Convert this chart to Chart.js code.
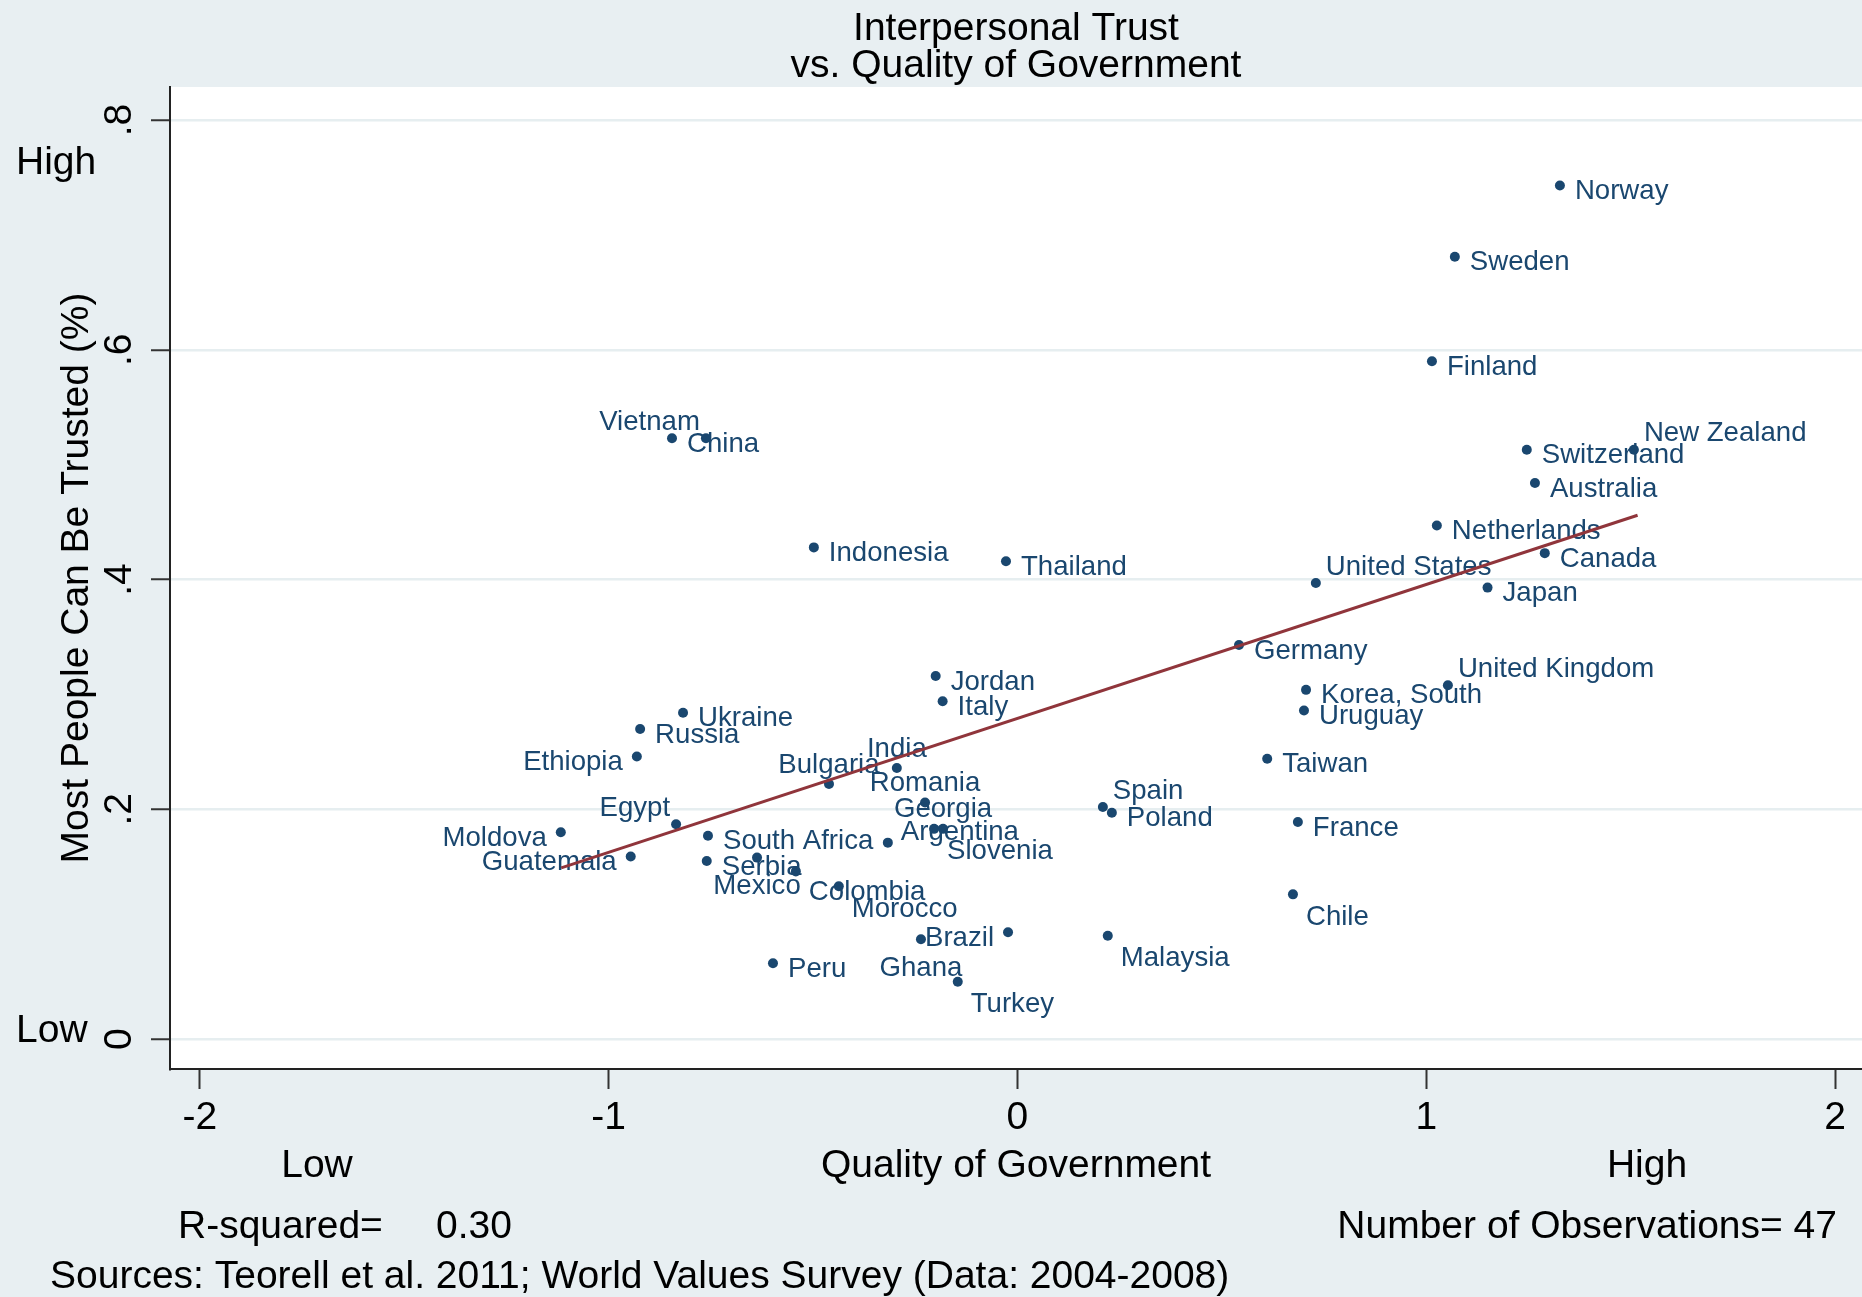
<!DOCTYPE html>
<html>
<head>
<meta charset="utf-8">
<script src="https://cdn.jsdelivr.net/npm/chart.js@4.4.1/dist/chart.umd.min.js"></script>
<style>
html,body{margin:0;padding:0;background:#e8eff2;}
canvas{display:block;}
</style>
</head>
<body>
<canvas id="c" width="1862" height="1297" style="width:1862px;height:1297px"></canvas>
<script>
// ---- Data ----
const countries = ['Norway','Sweden','Finland','New Zealand','Switzerland','Australia','Netherlands','Canada','United States','Japan',
  'Germany','United Kingdom','Korea, South','Uruguay','Taiwan','France','Chile','Spain','Poland','Malaysia',
  'Thailand','Indonesia','Vietnam','China','Jordan','Italy','Ukraine','Russia','Ethiopia','Egypt',
  'Moldova','Guatemala','South Africa','Serbia','Mexico','Colombia','Morocco','Bulgaria','India','Romania',
  'Georgia','Slovenia','Argentina','Ghana','Brazil','Turkey','Peru'];
const qog = [1.327,1.070,1.014,1.508,1.246,1.266,1.026,1.290,0.730,1.150,
  0.542,1.053,0.706,0.701,0.611,0.686,0.674,0.209,0.231,0.221,
  -0.028,-0.498,-0.762,-0.845,-0.200,-0.183,-0.818,-0.923,-0.931,-0.835,
  -1.117,-0.946,-0.757,-0.760,-0.637,-0.542,-0.437,-0.461,-0.295,-0.226,
  -0.182,-0.204,-0.317,-0.236,-0.023,-0.146,-0.598];
const trust = [0.743,0.681,0.590,0.513,0.513,0.484,0.447,0.423,0.397,0.393,
  0.343,0.308,0.304,0.286,0.244,0.189,0.126,0.202,0.197,0.090,
  0.416,0.428,0.523,0.523,0.316,0.294,0.284,0.270,0.246,0.187,
  0.180,0.159,0.177,0.155,0.158,0.146,0.133,0.222,0.236,0.206,
  0.183,0.183,0.171,0.087,0.093,0.050,0.066];
const fitX = [-1.116, 1.517];
const fitY = [0.149, 0.456];
const xTicks = [-2, -1, 0, 1, 2];
const xTickLabels = ['-2', '-1', '0', '1', '2'];
const yTicks = [0, 0.2, 0.4, 0.6, 0.8];
const yTickLabels = ['0', '.2', '.4', '.6', '.8'];
const titleLines = ['Interpersonal Trust', 'vs. Quality of Government'];
const yTitle = 'Most People Can Be Trusted (%)';
const xTitle = 'Quality of Government';
const rSquared = '0.30';
const nObs = 47;
const sourceNote = 'Sources: Teorell et al. 2011; World Values Survey (Data: 2004-2008)';

// ---- Styling ----
const FONT = '"Liberation Sans", Arial, Helvetica, sans-serif';
const NAVY = '#1a476f';
const MAROON = '#90353b';
const BG = '#e8eff2';

// marker-label clock positions (Stata style)
const labelClock = {
  'Vietnam': 11, 'New Zealand': 1, 'United States': 1, 'United Kingdom': 1, 'Spain': 1,
  'Ethiopia': 9, 'Moldova': 9, 'Guatemala': 9, 'Brazil': 9, 'Egypt': 11,
  'Bulgaria': 12, 'India': 12, 'Romania': 12, 'Georgia': 12,
  'Mexico': 6, 'Ghana': 6, 'Colombia': 4,
  'Morocco': 5, 'Slovenia': 5, 'Turkey': 5, 'Malaysia': 5, 'Chile': 5,
  'Argentina': 2
};
const clockOffsets = {
  3: [15, 6, 'left'], 9: [-14, 6, 'right'], 12: [0, -19, 'center'], 6: [0, 29, 'center'],
  1: [10, -16, 'left'], 11: [-6, -16, 'right'], 2: [13, -10, 'left'],
  4: [13, 21, 'left'], 5: [13, 23, 'left']
};

const bgPlugin = {
  id: 'bg',
  beforeDraw(chart) {
    const {ctx, chartArea: a} = chart;
    ctx.save();
    ctx.fillStyle = BG;
    ctx.fillRect(0, 0, chart.width, chart.height);
    ctx.fillStyle = '#ffffff';
    ctx.fillRect(a.left, a.top, a.right - a.left, a.bottom - a.top);
    ctx.restore();
  }
};

const labelPlugin = {
  id: 'pointLabels',
  afterDatasetDraw(chart, args) {
    if (args.index !== 0) return;
    const {ctx} = chart;
    const meta = args.meta;
    ctx.save();
    ctx.font = '27.6px ' + FONT;
    ctx.fillStyle = NAVY;
    ctx.textBaseline = 'middle';
    meta.data.forEach((el, i) => {
      const name = countries[i];
      const clock = labelClock[name] || 3;
      const [dx, dy, align] = clockOffsets[clock];
      ctx.textAlign = align;
      ctx.fillText(name, el.x + dx, el.y + dy);
    });
    ctx.restore();
  }
};

const textPlugin = {
  id: 'texts',
  afterDraw(chart) {
    const {ctx, chartArea: a} = chart;
    const ys = chart.scales.y;
    ctx.save();
    ctx.fillStyle = '#000';
    ctx.font = '39px ' + FONT;
    ctx.textBaseline = 'middle';
    // rotated y tick labels
    yTicks.forEach((v, i) => {
      const py = ys.getPixelForValue(v);
      ctx.save();
      ctx.translate(120, py);
      ctx.rotate(-Math.PI / 2);
      ctx.textAlign = 'center';
      ctx.fillText(yTickLabels[i], 0, 0);
      ctx.restore();
    });
    // y title
    ctx.save();
    ctx.translate(77, (a.top + a.bottom) / 2);
    ctx.rotate(-Math.PI / 2);
    ctx.textAlign = 'center';
    ctx.fillText(yTitle, 0, 0);
    ctx.restore();
    // y High / Low
    ctx.textAlign = 'left';
    ctx.fillText('High', 16, 163);
    ctx.fillText('Low', 16, 1031);
    // x Low / title / High
    ctx.textAlign = 'center';
    ctx.fillText('Low', 317, 1166);
    ctx.fillText(xTitle, (a.left + a.right) / 2, 1166);
    ctx.fillText('High', 1647, 1166);
    // notes
    ctx.textAlign = 'left';
    ctx.fillText('R-squared=', 178, 1227);
    ctx.fillText(rSquared, 436, 1227);
    ctx.textAlign = 'right';
    ctx.fillText('Number of Observations= ' + nObs, 1837, 1227);
    ctx.textAlign = 'left';
    ctx.fillText(sourceNote, 50, 1277);
    ctx.restore();
  }
};

new Chart(document.getElementById('c'), {
  type: 'scatter',
  data: {
    datasets: [
      {
        label: 'Countries',
        order: 1,
        data: countries.map((c, i) => ({x: qog[i], y: trust[i]})),
        pointRadius: 5,
        pointBackgroundColor: NAVY,
        pointBorderWidth: 0,
        backgroundColor: NAVY,
        borderColor: NAVY
      },
      {
        label: 'Fit',
        type: 'line',
        order: 0,
        data: fitX.map((x, i) => ({x: x, y: fitY[i]})),
        borderColor: MAROON,
        borderWidth: 3,
        pointRadius: 0,
        fill: false
      }
    ]
  },
  options: {
    responsive: false,
    animation: false,
    devicePixelRatio: 1,
    layout: {autoPadding: false, padding: {left: 170, top: 0, right: 0, bottom: 0}},
    plugins: {
      legend: {display: false},
      tooltip: {enabled: false},
      title: {
        display: true,
        text: titleLines,
        color: '#000',
        font: {family: FONT, size: 39, weight: 'normal', lineHeight: 37 / 39},
        padding: {top: 11, bottom: 2}
      }
    },
    scales: {
      x: {
        type: 'linear',
        min: -2.073,
        max: 2.066,
        afterBuildTicks: s => { s.ticks = xTicks.map(v => ({value: v})); },
        afterFit: s => { s.height = 228; s.paddingLeft = 0; s.paddingRight = 0; },
        grid: {drawOnChartArea: false, drawTicks: true, tickLength: 20, tickColor: '#333', tickWidth: 2},
        border: {display: true, color: '#222', width: 2},
        ticks: {
          color: '#000',
          font: {family: FONT, size: 39},
          padding: 6,
          maxRotation: 0,
          minRotation: 0,
          autoSkip: false,
          callback: (v) => { const i = xTicks.indexOf(v); return i >= 0 ? xTickLabels[i] : ''; }
        }
      },
      y: {
        type: 'linear',
        min: -0.026,
        max: 0.8287,
        afterBuildTicks: s => { s.ticks = yTicks.map(v => ({value: v})); },
        afterFit: s => { s.width = 0; s.paddingTop = 0; s.paddingBottom = 0; },
        grid: {drawOnChartArea: true, color: '#e6eef0', lineWidth: 2.5, drawTicks: true, tickLength: 19, tickColor: '#333', tickWidth: 2},
        border: {display: true, color: '#222', width: 2},
        ticks: {display: false}
      }
    }
  },
  plugins: [bgPlugin, labelPlugin, textPlugin]
});
</script>
</body>
</html>
